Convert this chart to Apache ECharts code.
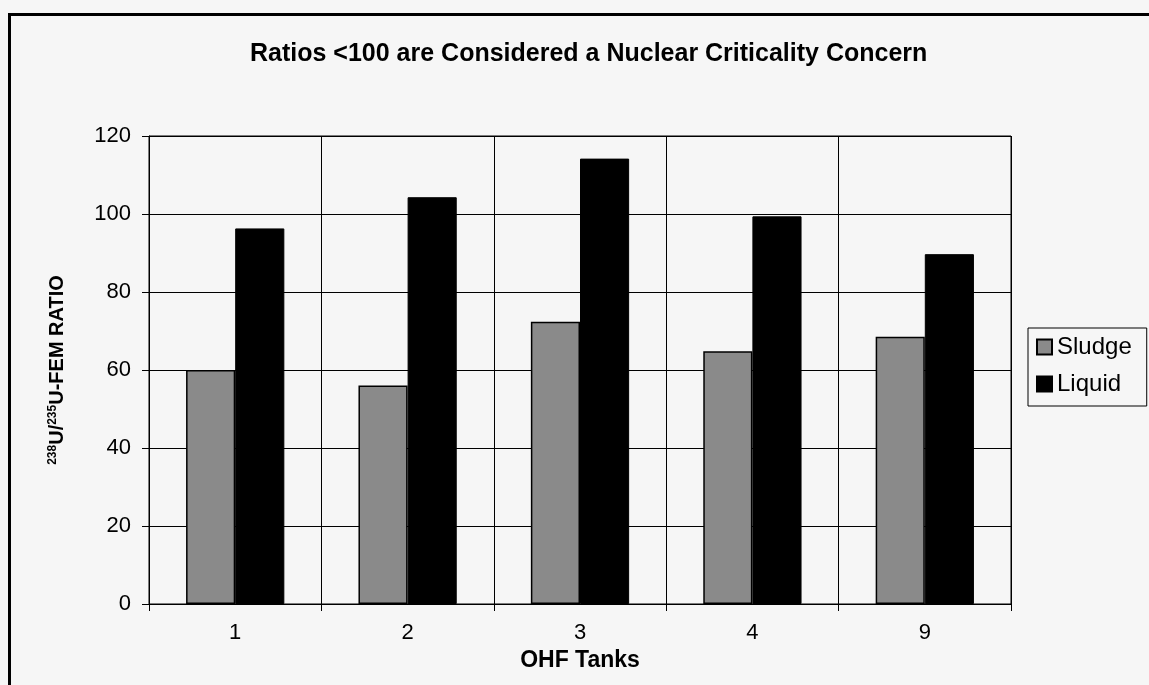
<!DOCTYPE html>
<html>
<head>
<meta charset="utf-8">
<script src="https://cdn.jsdelivr.net/npm/echarts@6/dist/echarts.min.js"></script>
<style>
html,body{margin:0;padding:0;background:#f6f6f6;}
#chart{width:1149px;height:685px;}
</style>
</head>
<body>
<div id="chart"></div>
<script>
const categories = ['1', '2', '3', '4', '9'];
const sludge = [60, 56, 72.4, 64.8, 68.5];
const liquid = [96.3, 104.3, 114.2, 99.4, 89.7];
const yMin = 0, yMax = 120, yStep = 20;
const titleText = 'Ratios <100 are Considered a Nuclear Criticality Concern';
const xName = 'OHF Tanks';
const yName = '{s|238}U/{s|235}U-FEM RATIO';

const FONT = '"Liberation Sans", Arial, sans-serif';
const chart = echarts.init(document.getElementById('chart'));
chart.setOption({
  backgroundColor: '#f6f6f6',
  animation: false,
  textStyle: { fontFamily: FONT, color: '#000' },
  title: {
    text: titleText,
    left: 245,
    top: 37,
    textStyle: { fontFamily: FONT, fontSize: 25, fontWeight: 'bold', color: '#000' }
  },
  graphic: [{
    type: 'rect',
    shape: { x: 9.5, y: 14.5, width: 1300, height: 900 },
    style: { fill: 'none', stroke: '#000', lineWidth: 3 },
    silent: true
  }],
  legend: {
    orient: 'vertical',
    left: 1028,
    top: 328,
    itemWidth: 15,
    itemHeight: 15,
    itemGap: 13,
    itemTextGap: 6,
    icon: 'rect',
    padding: [7, 15, 10, 8],
    borderColor: '#000',
    borderWidth: 1,
    backgroundColor: '#f6f6f6',
    textStyle: { fontFamily: FONT, fontSize: 24, color: '#000' },
    data: ['Sludge', 'Liquid']
  },
  grid: {
    left: 149, right: 138, top: 136, bottom: 81,
    show: true, borderColor: '#000', borderWidth: 1, backgroundColor: 'transparent'
  },
  xAxis: {
    type: 'category',
    data: categories,
    name: xName,
    nameLocation: 'middle',
    nameGap: 33,
    nameTextStyle: { fontFamily: FONT, fontSize: 23, fontWeight: 'bold', color: '#000' },
    axisLine: { lineStyle: { color: '#000', width: 1 } },
    axisTick: { show: true, alignWithLabel: false, length: 7, lineStyle: { color: '#000' } },
    axisLabel: { fontFamily: FONT, fontSize: 22, color: '#000', margin: 18 },
    splitLine: { show: true, lineStyle: { color: '#000', width: 1 } }
  },
  yAxis: {
    type: 'value',
    min: yMin, max: yMax, interval: yStep,
    name: yName,
    nameLocation: 'middle',
    nameGap: 82,
    nameRotate: 90,
    nameTextStyle: {
      fontFamily: FONT, fontSize: 20, fontWeight: 'bold', color: '#000',
      rich: {
        s: { fontFamily: FONT, fontSize: 12, fontWeight: 'bold', color: '#000', verticalAlign: 'top', lineHeight: 12, padding: [0, 0, 6, 0] }
      }
    },
    axisLine: { show: true, lineStyle: { color: '#000', width: 1 } },
    axisTick: { show: true, length: 7, lineStyle: { color: '#000' } },
    axisLabel: { fontFamily: FONT, fontSize: 22, color: '#000', margin: 18 },
    splitLine: { show: true, lineStyle: { color: '#000', width: 1 } }
  },
  series: [
    {
      name: 'Sludge',
      type: 'bar',
      data: sludge,
      barGap: '0%',
      barCategoryGap: '43%',
      itemStyle: { color: '#8a8a8a', borderColor: '#000', borderWidth: 1.5 }
    },
    {
      name: 'Liquid',
      type: 'bar',
      data: liquid,
      itemStyle: { color: '#000', borderColor: '#000', borderWidth: 1 }
    }
  ]
});
</script>
</body>
</html>
